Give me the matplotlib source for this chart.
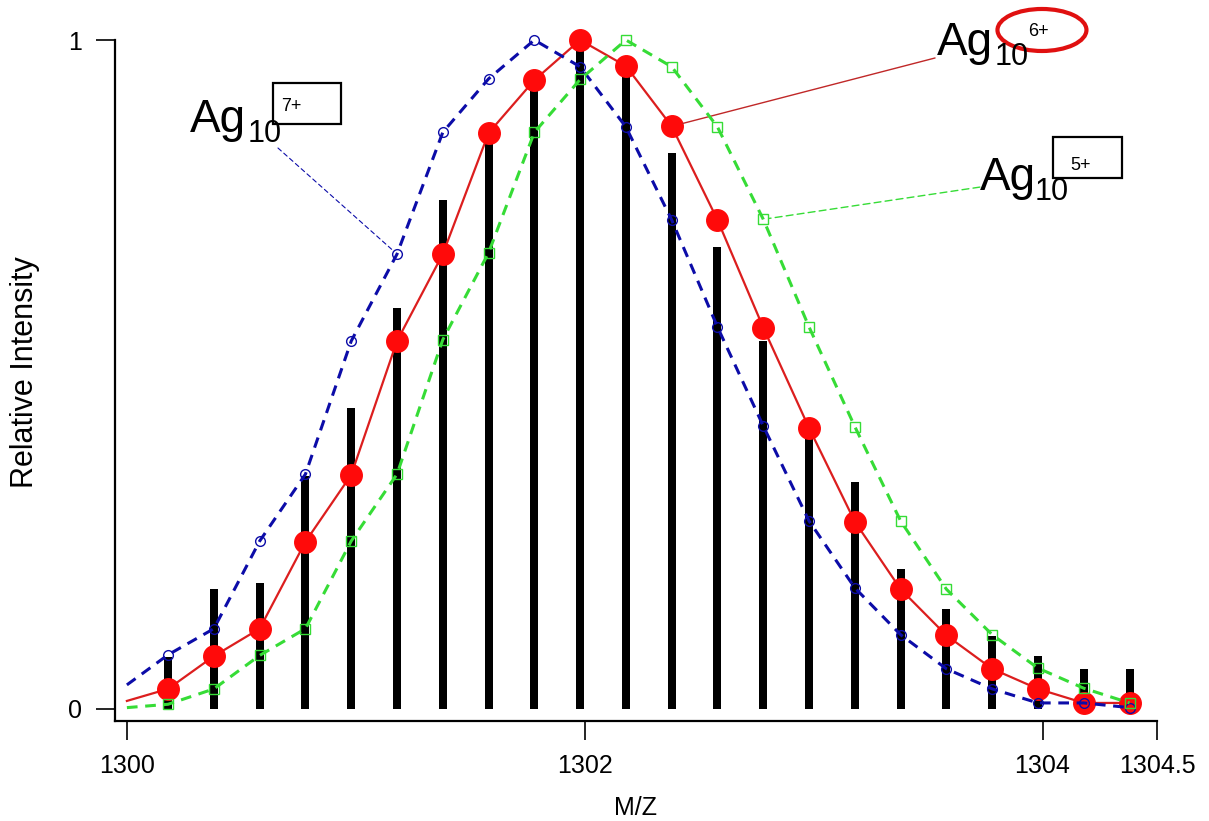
import matplotlib
matplotlib.use("Agg")
import matplotlib.pyplot as plt
from matplotlib.patches import Rectangle, Ellipse

plt.rcParams['font.family'] = ['Liberation Sans', 'DejaVu Sans']

# isotope stick spectrum (measured)
bar_x = [1300.18, 1300.38, 1300.58, 1300.78, 1300.98, 1301.18, 1301.38, 1301.58,
         1301.78, 1301.98, 1302.18, 1302.38, 1302.58, 1302.78, 1302.98, 1303.18,
         1303.38, 1303.58, 1303.78, 1303.98, 1304.18, 1304.38]
bar_h = [0.078, 0.179, 0.188, 0.348, 0.45, 0.60, 0.761, 0.86, 0.93, 1.0, 0.95,
         0.831, 0.69, 0.55, 0.417, 0.339, 0.209, 0.149, 0.109, 0.079, 0.060, 0.060]

# simulated envelopes (first point has no marker)
sim_x = [1300.0] + bar_x
ag6 = [0.012, 0.030, 0.079, 0.120, 0.250, 0.350, 0.550, 0.680, 0.861, 0.940, 1.0,
       0.961, 0.871, 0.731, 0.570, 0.420, 0.280, 0.179, 0.110, 0.060, 0.030,
       0.009, 0.009]
ag7 = [0.036, 0.081, 0.120, 0.251, 0.351, 0.550, 0.680, 0.862, 0.942, 1.0, 0.960,
       0.870, 0.731, 0.571, 0.423, 0.281, 0.181, 0.111, 0.060, 0.030, 0.009,
       0.009, 0.002]
ag5 = [0.002, 0.007, 0.030, 0.080, 0.120, 0.251, 0.351, 0.552, 0.682, 0.862,
       0.941, 1.0, 0.960, 0.870, 0.732, 0.571, 0.422, 0.281, 0.179, 0.111, 0.061,
       0.031, 0.009]

xticks = [1300, 1302, 1304, 1304.5]
xticklabels = ["1300", "1302", "1304", "1304.5"]

fig = plt.figure(figsize=(12.09, 8.21), dpi=100)
ax = fig.add_axes([115/1209, 100/821, 1042/1209, 681/821])

ax.bar(bar_x, bar_h, width=0.035, color='black', zorder=1)

red = '#ff0a0a'
blue = '#0c0ca8'
green = '#36dc36'
mk = list(range(1, len(sim_x)))
ax.plot(sim_x, ag6, color='#dc1e1e', lw=1.6, marker='o', ms=15.5,
        mfc=red, mec=red, markevery=mk, zorder=3, clip_on=False)
ax.plot(sim_x, ag7, color=blue, lw=2.2, ls=(0, (3.5, 2.5)), marker='o', ms=7,
        mfc='none', mec=blue, mew=1.0, markevery=mk, zorder=4, clip_on=False)
ax.plot(sim_x, ag5, color=green, lw=2.2, ls=(0, (3.5, 2.5)), marker='s', ms=7,
        mfc='none', mec=green, mew=1.0, markevery=mk, zorder=5, clip_on=False)

ax.set_xlim(1299.948, 1304.5)
ax.set_ylim(-0.018, 1.0)
ax.set_xticks(xticks)
ax.set_xticklabels(xticklabels)
ax.set_yticks([0, 1])
ax.set_yticklabels(["0", "1"])
for s in ['top', 'right']:
    ax.spines[s].set_visible(False)
for s in ['left', 'bottom']:
    ax.spines[s].set_linewidth(1.6)
ax.tick_params(direction='out', length=14, width=1.2, labelsize=18, pad=10)
ax.set_xlabel("M/Z", fontsize=18, labelpad=13)
ax.set_ylabel("Relative Intensity", fontsize=22, va='center')
ax.yaxis.set_label_coords(-0.0864, 0.512)

# labels with leader lines
def label(ag_xy, sub_xy, charge, charge_xy):
    ax.text(*ag_xy, "Ag", fontsize=33, transform=ax.transAxes, va='baseline')
    ax.text(*sub_xy, "10", fontsize=22, transform=ax.transAxes, va='baseline')
    ax.text(*charge_xy, charge, fontsize=13, transform=ax.transAxes, va='center')

label((0.072, 0.865), (0.127, 0.850), "7+", (0.159, 0.903))
ax.add_patch(Rectangle((0.1516, 0.877), 0.0653, 0.060, transform=ax.transAxes,
                       fill=False, lw=1.6, ec='black', clip_on=False))
ax.annotate("", xy=(bar_x[5], ag7[6]), xycoords='data', xytext=(0.1564, 0.8414),
            textcoords='axes fraction',
            arrowprops=dict(arrowstyle='-', color=blue, lw=0.8, ls=(0, (4, 3)),
                            shrinkA=0, shrinkB=4))

label((0.789, 0.978), (0.8445, 0.963), "6+", (0.876, 1.013))
ax.add_patch(Ellipse((0.8896, 1.0147), 0.0854, 0.0617, transform=ax.transAxes,
                     fill=False, lw=3, ec='#e01010', clip_on=False))
ax.annotate("", xy=(bar_x[11], ag6[12]), xycoords='data', xytext=(0.787, 0.9736),
            textcoords='axes fraction',
            arrowprops=dict(arrowstyle='-', color='#c02828', lw=1.0,
                            shrinkA=0, shrinkB=8))

label((0.830, 0.780), (0.883, 0.765), "5+", (0.9165, 0.815))
ax.add_patch(Rectangle((0.900, 0.797), 0.066, 0.061, transform=ax.transAxes,
                       fill=False, lw=1.6, ec='black', clip_on=False))
ax.annotate("", xy=(bar_x[13], ag5[14]), xycoords='data', xytext=(0.830, 0.784),
            textcoords='axes fraction',
            arrowprops=dict(arrowstyle='-', color=green, lw=1.0, ls=(0, (5, 3)),
                            shrinkA=0, shrinkB=4))

fig.savefig("out.png", dpi=100)
